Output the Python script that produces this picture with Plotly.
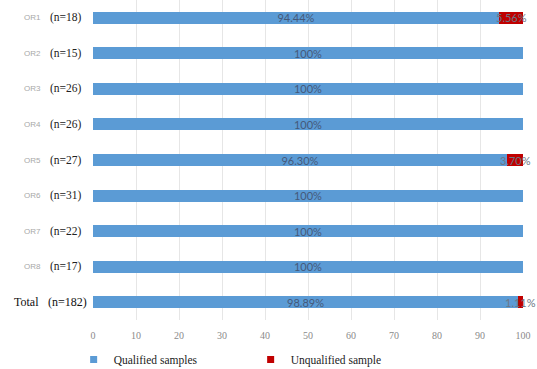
import plotly.graph_objects as go

groups = ["OR1", "OR2", "OR3", "OR4", "OR5", "OR6", "OR7", "OR8", "Total"]
sample_counts = ["(n=18)", "(n=15)", "(n=26)", "(n=26)", "(n=27)", "(n=31)", "(n=22)", "(n=17)", "(n=182)"]
qualified = [94.44, 100, 100, 100, 96.30, 100, 100, 100, 98.89]
unqualified = [5.56, 0, 0, 0, 3.70, 0, 0, 0, 1.11]
x_ticks = [0, 10, 20, 30, 40, 50, 60, 70, 80, 90, 100]

BLUE = "#5B9BD5"
RED = "#C00000"


def fmt(v):
    if v == 0:
        return ""
    if v == 100:
        return "100%"
    return f"{v:.2f}%"


fig = go.Figure()
fig.add_trace(go.Bar(
    y=groups, x=qualified, orientation="h", name="Qualified samples",
    marker=dict(color=BLUE, line=dict(width=0)),
    text=[fmt(v) for v in qualified], textposition="inside", insidetextanchor="middle",
    textfont=dict(family="Lato, sans-serif", size=11, color="#45597A"),
    width=0.34, showlegend=False,
))
fig.add_trace(go.Bar(
    y=groups, x=unqualified, orientation="h", name="Unqualified sample",
    marker=dict(color=RED, line=dict(width=0)),
    width=0.34, showlegend=False,
))

# labels of the unqualified segments, centred on each red segment
for g, q, u in zip(groups, qualified, unqualified):
    if u > 0:
        fig.add_annotation(x=q + u / 2, y=g, xref="x", yref="y", text=fmt(u), showarrow=False,
                           xanchor="center", yanchor="middle",
                           font=dict(family="Lato, sans-serif", size=11, color="#6E7684"))

# legend entries with small square markers
fig.add_trace(go.Scatter(x=[None], y=[None], mode="markers", name="Qualified samples",
                         marker=dict(symbol="square", size=7, color=BLUE)))
fig.add_trace(go.Scatter(x=[None], y=[None], mode="markers", name="Unqualified sample",
                         marker=dict(symbol="square", size=7, color=RED)))

for g, n in zip(groups, sample_counts):
    if g == "Total":
        fig.add_annotation(x=-0.155, y=g, xref="paper", yref="y", text=g, showarrow=False,
                           xanchor="center", font=dict(family="Liberation Serif", size=12, color="#111"))
        fig.add_annotation(x=-0.01, y=g, xref="paper", yref="y", text=n, showarrow=False,
                           xanchor="right", font=dict(family="Liberation Serif", size=12, color="#111"))
    else:
        fig.add_annotation(x=-0.14, y=g, xref="paper", yref="y", text=g, showarrow=False,
                           xanchor="center", font=dict(family="Liberation Sans", size=8, color="#A8A8A8"))
        fig.add_annotation(x=-0.02, y=g, xref="paper", yref="y", text=n, showarrow=False,
                           xanchor="right", font=dict(family="Liberation Serif", size=11.5, color="#222"))

fig.update_layout(
    barmode="stack",
    width=537, height=369,
    margin=dict(l=93, r=14, t=0, b=49, autoexpand=False),
    paper_bgcolor="white", plot_bgcolor="white",
    uniformtext=dict(minsize=11, mode="show"),
    showlegend=True,
    legend=dict(orientation="h", x=-0.045, y=-0.078, xanchor="left", yanchor="top",
                font=dict(family="Liberation Serif", size=11.5, color="#222"),
                entrywidth=132, itemwidth=30, traceorder="normal"),
    xaxis=dict(range=[0, 100], tickvals=x_ticks, showgrid=True, gridcolor="#E6E6E6", gridwidth=1,
               zeroline=False, showline=False,
               tickfont=dict(family="Liberation Serif", size=10, color="#8A8A8A"),
               ticks="", ticklabelstandoff=8),
    yaxis=dict(categoryorder="array", categoryarray=groups, autorange="reversed",
               showticklabels=False, showgrid=False, zeroline=False),
)

fig.write_html("out.html")
